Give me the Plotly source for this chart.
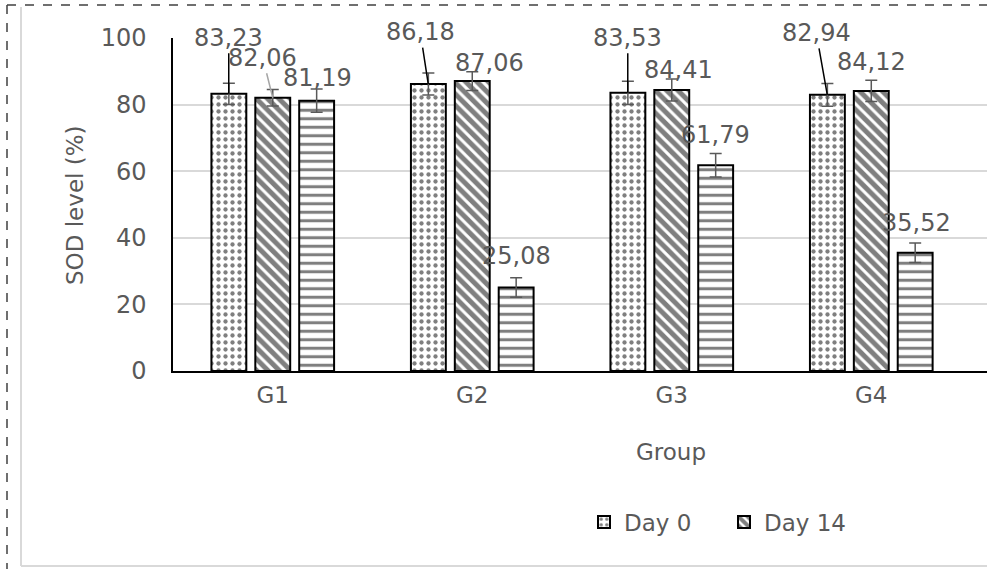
import plotly.graph_objects as go

# ---------------- data ----------------
groups = ["G1", "G2", "G3", "G4"]
series_names = ["Day 0", "Day 14", "Day 28"]
day0 = [83.23, 86.18, 83.53, 82.94]
day14 = [82.06, 87.06, 84.41, 84.12]
day28 = [81.19, 25.08, 61.79, 35.52]
err_day0 = [3.2, 3.3, 3.5, 3.4]
err_day14 = [2.5, 2.8, 3.3, 3.2]
err_day28 = [3.5, 2.9, 3.5, 2.9]
y_ticks = [0, 20, 40, 60, 80, 100]

values = [day0, day14, day28]
errors = [err_day0, err_day14, err_day28]

# ---------------- style ----------------
W, H = 987, 569
PL, PR, PT, PB = 173, 987, 38, 371  # plot area in pixels
FONT = "DejaVu Sans"
GRAY_TXT = "#595959"
patterns = [
    dict(shape=".", size=7, solidity=0.3, fgcolor="black", bgcolor="white"),
    dict(shape="\\", size=8, solidity=0.62, fgcolor="black", bgcolor="white"),
    dict(shape="-", size=8.5, solidity=0.36, fgcolor="black", bgcolor="white"),
]
show_leg = [True, True, False]
bar_shift = [-44, 0, 44]  # pixel offset of each series within a group
# label offsets (dx, dy px from bar top) and leader line colour per series/group
label_off = [
    [(0, -56, "black"), (-8, -52, "black"), (0, -55, "black"), (-11, -62, "black")],
    [(-10, -40, "#a6a6a6"), (17, -18, None), (7, -20, None), (0, -29, None)],
    [(1, -23, None), (0, -31, None), (0, -30, None), (1, -30, None)],
]


def px_x(p):
    return (p - PL) / (PR - PL)


def px_y(p):
    return (PB - p) / (PB - PT)


fig = go.Figure()
for i in range(3):
    fig.add_trace(go.Bar(
        x=groups, y=values[i], name=series_names[i], showlegend=show_leg[i],
        marker=dict(color="white", pattern=patterns[i],
                    line=dict(color="black", width=2)),
        error_y=dict(type="data", array=errors[i], visible=True,
                     color="#595959", thickness=1.5, width=6),
    ))

annotations = []
for i in range(3):
    for j, g in enumerate(groups):
        dx, dy, lc = label_off[i][j]
        v = values[i][j]
        annotations.append(dict(
            x=g, y=v, xref="x", yref="y", xshift=bar_shift[i],
            text=f"{v:.2f}".replace(".", ","),
            showarrow=True, ax=dx, ay=dy, arrowhead=0, standoff=0,
            arrowwidth=1.5, arrowcolor=lc if lc else "rgba(0,0,0,0)",
            font=dict(family=FONT, size=24, color=GRAY_TXT),
        ))

# axis titles
annotations.append(dict(x=px_x(75), y=px_y(205), xref="paper", yref="paper",
                        text="SOD level (%)", textangle=-90, showarrow=False,
                        xanchor="center", yanchor="middle",
                        font=dict(family=FONT, size=23, color=GRAY_TXT)))
annotations.append(dict(x=px_x(671), y=px_y(452), xref="paper", yref="paper",
                        text="Group", showarrow=False,
                        xanchor="center", yanchor="middle",
                        font=dict(family=FONT, size=23, color=GRAY_TXT)))

shapes = [
    # outer dashed frame
    dict(type="line", xref="paper", yref="paper", x0=px_x(7), x1=px_x(W + 5),
         y0=px_y(5), y1=px_y(5), line=dict(color="#404040", width=1.5, dash="dash")),
    dict(type="line", xref="paper", yref="paper", x0=px_x(7), x1=px_x(7),
         y0=px_y(5), y1=px_y(H + 5), line=dict(color="#404040", width=1.5, dash="dash")),
    # inner chart-area border
    dict(type="line", xref="paper", yref="paper", x0=px_x(21), x1=px_x(21),
         y0=px_y(7), y1=px_y(566), line=dict(color="#d9d9d9", width=2)),
    dict(type="line", xref="paper", yref="paper", x0=px_x(21), x1=px_x(W + 5),
         y0=px_y(566), y1=px_y(566), line=dict(color="#d9d9d9", width=2)),
]

fig.update_layout(
    width=W, height=H,
    margin=dict(l=PL, r=W - PR, t=PT, b=H - PB, pad=0),
    paper_bgcolor="white", plot_bgcolor="white",
    barmode="group", bargap=0.34, bargroupgap=0.205,
    font=dict(family=FONT, size=24, color=GRAY_TXT),
    xaxis=dict(range=[-0.5, 3.58], showline=True, linecolor="black", linewidth=1.5,
               showgrid=False, ticks="", ticklabelstandoff=3,
               tickfont=dict(family=FONT, size=23, color=GRAY_TXT), automargin=False),
    yaxis=dict(range=[0, 100], tickvals=y_ticks, showline=True, linecolor="black",
               linewidth=1.5, showgrid=True, gridcolor="#d9d9d9", gridwidth=1.5,
               zeroline=False, ticks="", ticklabelstandoff=20,
               tickfont=dict(family=FONT, size=24, color=GRAY_TXT), automargin=False),
    legend=dict(orientation="h", x=px_x(584), y=px_y(522), xanchor="left",
                yanchor="middle", entrywidth=95, entrywidthmode="pixels",
                font=dict(family=FONT, size=23, color=GRAY_TXT),
                bgcolor="rgba(0,0,0,0)"),
    annotations=annotations, shapes=shapes,
)

fig.write_html(
    "out.html",
    config={"displayModeBar": False},
    post_script="document.body.style.margin='0';document.body.style.overflow='hidden';",
)
